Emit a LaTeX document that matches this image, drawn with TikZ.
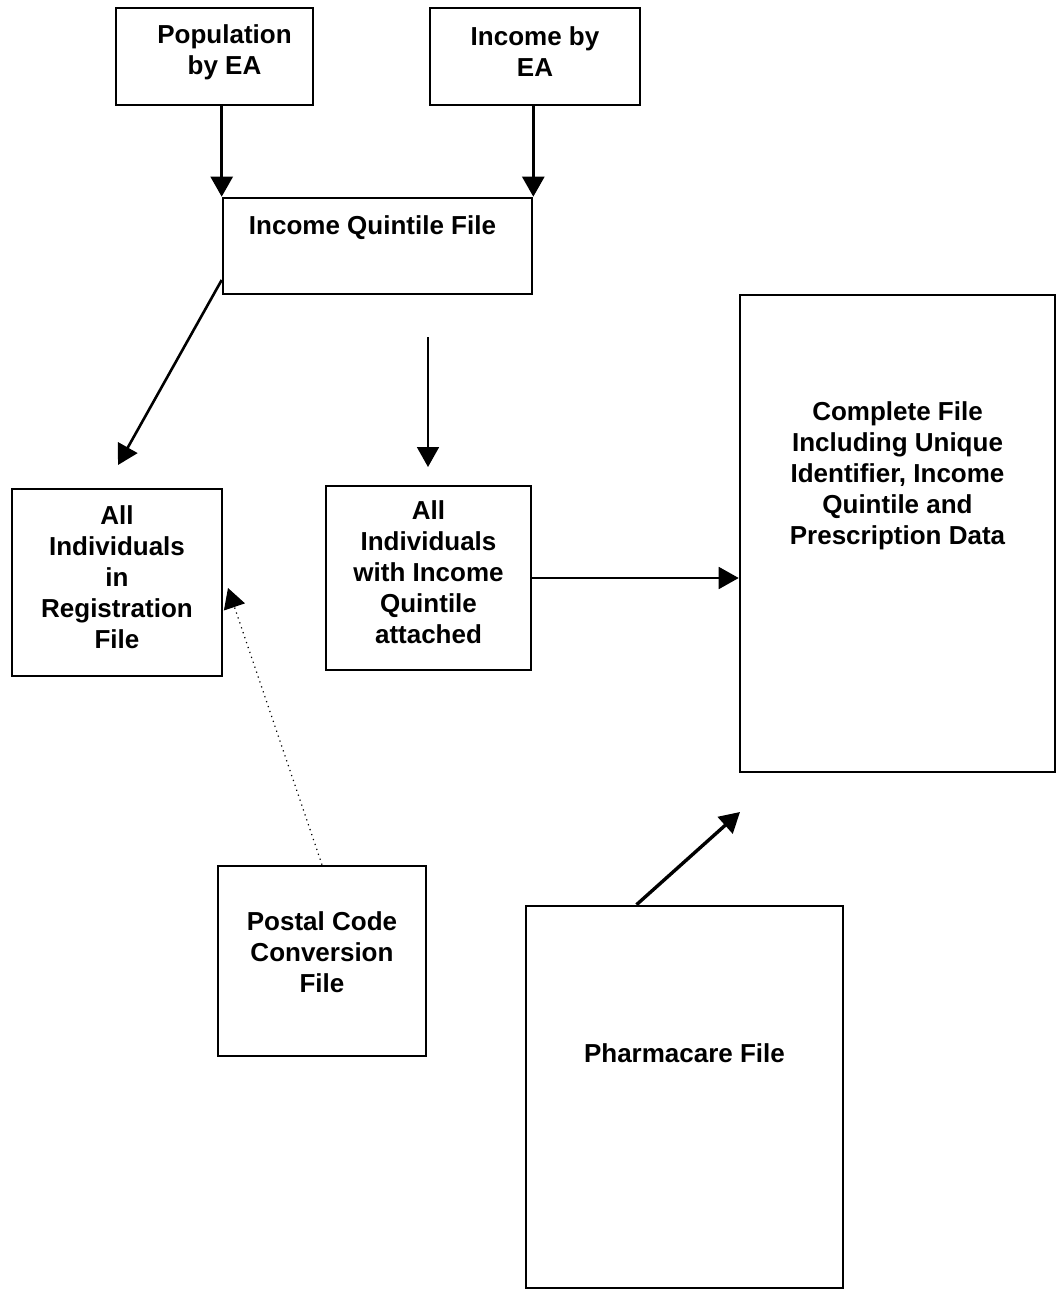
\documentclass[tikz,border=0pt]{standalone}
\usepackage{fontspec}
\setmainfont{Liberation Sans}
\usepackage{tikz}
\usetikzlibrary{arrows.meta,positioning}

\begin{document}
\begin{tikzpicture}[
  x=0.5pt, y=-0.5pt,
  box/.style={draw, line width=1.3pt, inner sep=0pt},
  txt/.style={align=center, inner sep=0pt, font=\bfseries\fontsize{13}{15.5}\selectfont},
  arrow/.style={-{Triangle[length=10pt,width=11pt]}, line width=1.3pt},
  thinarrow/.style={-{Triangle[length=10pt,width=11pt]}, line width=0.9pt}
]
\useasboundingbox (0,0) rectangle (1058,1290);
% boxes
\node[box, minimum width=98.5pt, minimum height=48.5pt] (pop) at (214.5,56.5) {};
\node[box, minimum width=105pt, minimum height=48.5pt] (inc) at (535,56.5) {};
\node[box, minimum width=154.5pt, minimum height=48pt] (quint) at (377.5,246) {};
\node[box, minimum width=105pt, minimum height=93.5pt] (reg) at (117,582.5) {};
\node[box, minimum width=102.5pt, minimum height=92pt] (withinc) at (428.5,578) {};
\node[box, minimum width=157.5pt, minimum height=238.5pt] (complete) at (897.5,533.5) {};
\node[box, minimum width=104pt, minimum height=95pt] (postal) at (322,961) {};
\node[box, minimum width=158.5pt, minimum height=191pt] (pharma) at (684.5,1097) {};
% texts
\node[txt, below=9pt of pop.north, xshift=5pt] (popT) {Population\\by EA};
\node[txt, below=10pt of inc.north] (incT) {Income by\\EA};
\node[txt, below=9.5pt of quint.north, xshift=-2.5pt] (quintT) {Income Quintile File};
\node[txt, below=9pt of reg.north] (regT) {All\\Individuals\\in\\Registration\\File};
\node[txt, below=8pt of withinc.north] (withincT) {All\\Individuals\\with Income\\Quintile\\attached};
\node[txt, below=54pt of complete.north] (completeT) {Complete File\\Including Unique\\Identifier, Income\\Quintile and\\Prescription Data};
\node[txt, below=23.5pt of postal.north] (postalT) {Postal Code\\Conversion\\File};
\node[txt, below=69.5pt of pharma.north] (pharmaT) {Pharmacare File};
% free ends
\coordinate (regtip) at (118,465);
\coordinate (midtop) at (428,337);
\coordinate (midtip) at (428,467);
\coordinate (posttip) at (228,588);
\coordinate (pharmtip) at (740,812);
% connectors
\draw[arrow] (pop.south -| quint.north west) -- (quint.north west);
\draw[arrow] (inc.south -| quint.north east) -- (quint.north east);
\draw[arrow] ([yshift=-17pt]quint.west) -- (regtip);
\draw[thinarrow] (midtop) -- (midtip);
\draw[thinarrow] (withinc.east) -- (withinc.east -| complete.west);
\draw[line width=0.6pt, dotted, -{Triangle[length=10pt,width=11pt]}] (postal.north) -- (posttip);
\draw[arrow, line width=1.7pt] ([xshift=-24pt]pharma.north) -- (pharmtip);
\end{tikzpicture}
\end{document}
